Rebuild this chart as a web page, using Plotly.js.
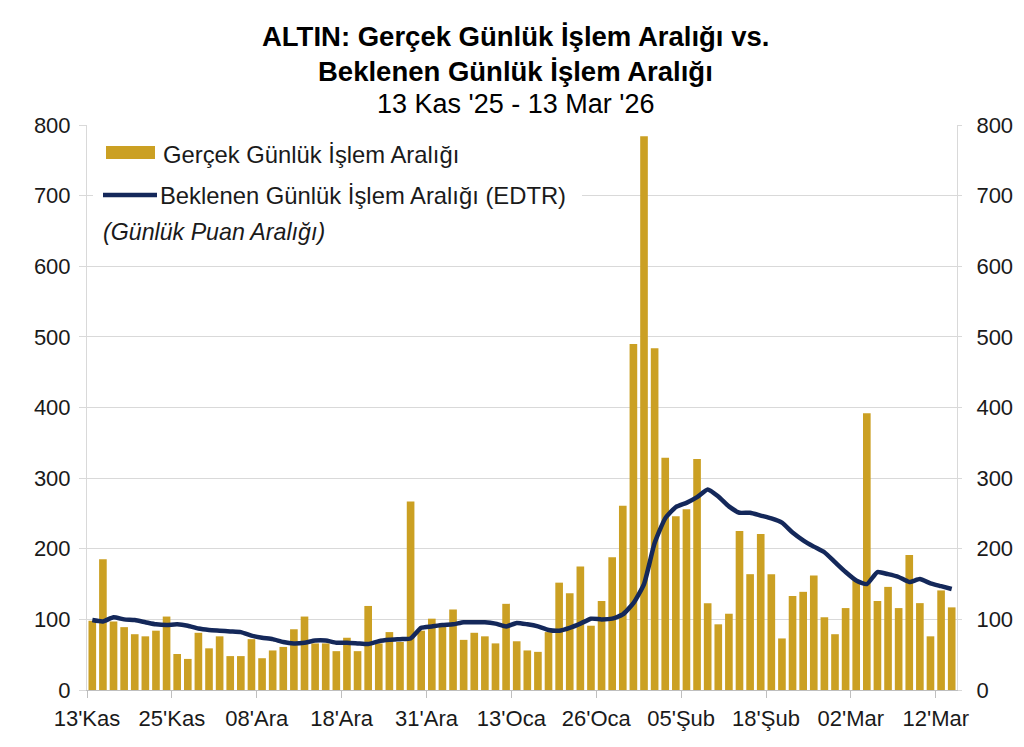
<!DOCTYPE html>
<html>
<head>
<meta charset="utf-8">
<script src="https://cdn.plot.ly/plotly-3.0.1.min.js"></script>
<style>html,body{margin:0;padding:0;background:#fff;}#chart{width:1024px;height:747px;}</style>
</head>
<body>
<div id="chart"></div>
<script>
// Trading days 13 Kas '25 .. 13 Mar '26 (82 sessions)
const actualRange = [98,185,97,89,79,76,84,104,51,44,81,59,76,48,48,72,45,56,61,86,
  104,66,66,55,74,55,119,66,82,68,267,84,101,93,114,71,81,76,66,122,
  69,56,54,82,152,137,175,91,126,188,261,490,784,484,329,246,256,327,123,93,
  108,225,164,221,164,73,133,139,162,103,79,116,155,392,126,146,116,191,123,76,
  141,117];
const edtr = [99,97,103,100,99,96,93,92,93,91,87,85,84,83,82,77,74,72,68,66,
  67,70,70,67,67,66,65,69,71,72,73,88,90,92,93,96,96,96,94,90,
  95,93,90,85,84,88,94,101,100,101,107,123,150,208,243,259,265,273,284,274,
  260,251,251,247,243,237,223,212,203,195,181,167,155,150,167,164,160,153,157,151,
  147,143];
const tickPositions = [0,8,16,24,32,40,48,56,64,72,80];
const tickLabels = ["13'Kas","25'Kas","08'Ara","18'Ara","31'Ara","13'Oca","26'Oca","05'Şub","18'Şub","02'Mar","12'Mar"];
const yTicks = [0,100,200,300,400,500,600,700,800];

const seriesNames = ["Gerçek Günlük İşlem Aralığı","Beklenen Günlük İşlem Aralığı (EDTR)"];
const xs = actualRange.map((_, i) => i + 0.5);

const FONT = "Arial, 'Liberation Sans', sans-serif";
const GOLD = "#CBA023";
const NAVY = "#14285A";

const traces = [
  {type:'bar', x: xs, y: actualRange, name: seriesNames[0], marker:{color:GOLD}, width:0.72, showlegend:false, hoverinfo:'y'},
  {type:'scatter', mode:'lines', x: xs, y: edtr, name: seriesNames[1], yaxis:'y2',
   line:{color:NAVY, width:4.5, shape:'spline', smoothing:0.5}, showlegend:false}
];

// pixel -> paper helpers for layout annotations
const L = 87, R = 957, T = 125, B = 690;
const px = v => (v - L) / (R - L);
const py = v => (B - v) / (B - T);

const tickFont = {size:22, family:FONT, color:'#1a1a1a'};

const layout = {
  width:1024, height:747,
  margin:{l:L, r:1024-R, t:T, b:747-B},
  paper_bgcolor:'#fff', plot_bgcolor:'#fff',
  font:{family:FONT, size:18, color:'#1a1a1a'},
  showlegend:false,
  bargap:0.28,
  xaxis:{range:[0,82], tickmode:'array', tickvals:tickPositions, ticktext:tickLabels,
    ticks:'outside', ticklen:7, tickcolor:'#bfbfbf', showline:true, linecolor:'#bfbfbf', linewidth:1,
    showgrid:false, zeroline:false, tickfont:tickFont, ticklabelstandoff:2, fixedrange:true},
  yaxis:{range:[0,800], tickmode:'array', tickvals:yTicks, showgrid:true, gridcolor:'#d9d9d9', gridwidth:1,
    showline:true, linecolor:'#d9d9d9', ticks:'outside', ticklen:7, tickcolor:'#d9d9d9', zeroline:false, tickfont:tickFont,
    ticklabelstandoff:4, fixedrange:true},
  yaxis2:{range:[0,800], tickmode:'array', tickvals:yTicks, overlaying:'y', side:'right', showgrid:false,
    showline:true, linecolor:'#d9d9d9', ticks:'outside', ticklen:4, tickcolor:'#d9d9d9', zeroline:false, tickfont:tickFont,
    ticklabelstandoff:10, fixedrange:true},
  shapes:[
    {type:'rect', xref:'paper', yref:'paper', x0:px(93), x1:px(582), y0:py(250), y1:py(131),
     fillcolor:'#fff', line:{width:0}, layer:'above'},
    {type:'rect', xref:'paper', yref:'paper', x0:px(106), x1:px(155), y0:py(159), y1:py(146),
     fillcolor:GOLD, line:{width:0}, layer:'above'},
    {type:'line', xref:'paper', yref:'paper', x0:px(103), x1:px(157), y0:py(195), y1:py(195),
     line:{color:NAVY, width:4.5}, layer:'above'}
  ],
  annotations:[
    {xref:'paper', yref:'paper', x:px(515), y:py(37), xanchor:'center', yanchor:'middle', showarrow:false,
     text:'<b>ALTIN: Gerçek Günlük İşlem Aralığı vs.</b>', font:{size:27.5, family:FONT, color:'#000'}},
    {xref:'paper', yref:'paper', x:px(515), y:py(71), xanchor:'center', yanchor:'middle', showarrow:false,
     text:'<b>Beklenen Günlük İşlem Aralığı</b>', font:{size:27.5, family:FONT, color:'#000'}},
    {xref:'paper', yref:'paper', x:px(515), y:py(104), xanchor:'center', yanchor:'middle', showarrow:false,
     text:"13 Kas '25 - 13 Mar '26", font:{size:27, family:FONT, color:'#000'}},
    {xref:'paper', yref:'paper', x:px(161), y:py(154), xanchor:'left', yanchor:'middle', showarrow:false,
     text:seriesNames[0], font:{size:23.8, family:FONT, color:'#1a1a1a'}},
    {xref:'paper', yref:'paper', x:px(158), y:py(195), xanchor:'left', yanchor:'middle', showarrow:false,
     text:seriesNames[1], font:{size:23.8, family:FONT, color:'#1a1a1a'}},
    {xref:'paper', yref:'paper', x:px(101), y:py(232), xanchor:'left', yanchor:'middle', showarrow:false,
     text:'<i>(Günlük Puan Aralığı)</i>', font:{size:23.2, family:FONT, color:'#1a1a1a'}}
  ]
};

Plotly.newPlot('chart', traces, layout, {staticPlot:true, displayModeBar:false});
</script>
</body>
</html>
